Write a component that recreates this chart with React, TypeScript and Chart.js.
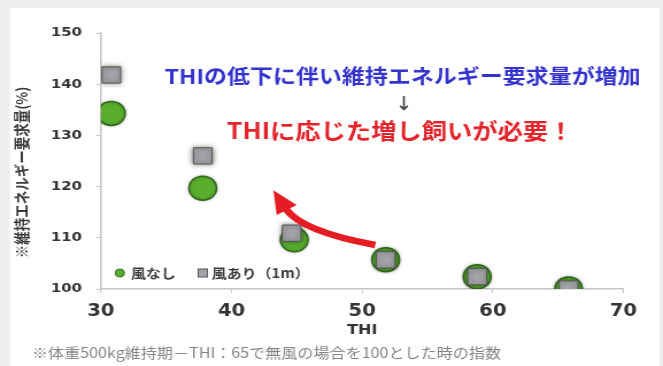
import { useEffect, useRef } from 'react';
import { Chart, registerables } from 'chart.js';

Chart.register(...registerables);

// THI (x) and maintenance-energy requirement index (y) for each condition
const thiNoWind = [30.8, 37.8, 44.8, 51.8, 58.8, 65.8];
const energyNoWind = [134.3, 119.7, 109.6, 105.7, 102.4, 100.0];
const thiWind = [30.8, 37.8, 44.6, 51.8, 58.8, 65.8];
const energyWind = [141.8, 126.0, 110.9, 105.7, 102.4, 100.0];

const seriesLabels = ['風なし', '風あり（1m）'];
const xTicks = [30, 40, 50, 60, 70];
const yTicks = [100, 110, 120, 130, 140, 150];

const xTitle = 'THI';
const yTitle = '※維持エネルギー要求量(%)';
const headline = 'THIの低下に伴い維持エネルギー要求量が増加';
const conclusion = 'THIに応じた増し飼いが必要！';
const footnote = '※体重500kg維持期－THI：65で無風の場合を100とした時の指数';

// Callout anchors in data units (THI, index)
const headlineAt = { x: 53.1, y: 141.6 };
const downArrowAt = { x: 53.2, y: 136.3 };
const conclusionAt = { x: 52.9, y: 130.9 };
const curveTail = { x: 51.0, y: 108.6 };
const curveCtrl = { x: 45.3, y: 111.3 };
const curveTip = { x: 43.2, y: 119.3 };

// Drawing surface: the chart is laid out on a narrower canvas and shown widened.
const CANVAS_W = 577;
const CANVAS_H = 366;
const SHOWN_W = 663;

const JP = "'Noto Sans CJK JP', 'Noto Sans', sans-serif";
const NUM = "'DejaVu Sans', 'Noto Sans', sans-serif";

const GREEN = '#5aae2e';
const GREEN_EDGE = '#2f6a1c';
const GREY = '#a3a3a9';
const GREY_EDGE = '#55555a';
const AXIS = '#c6c6c6';

const panelPlugin = {
  id: 'panel',
  beforeDraw(chart: any) {
    const { ctx, width, height } = chart;
    ctx.save();
    ctx.fillStyle = '#efefef';
    ctx.fillRect(0, 0, width, height);
    ctx.fillStyle = '#ffffff';
    ctx.fillRect(8.7, 8, 565.2, height - 8);
    ctx.restore();
  },
};

const markerShadowPlugin = {
  id: 'markerShadow',
  beforeDatasetDraw(chart: any, args: any) {
    const ctx = chart.ctx;
    ctx.save();
    if (args.index === 1) {
      ctx.shadowColor = 'rgba(20,30,10,0.6)';
      ctx.shadowBlur = 5;
    } else {
      ctx.shadowColor = 'rgba(0,0,0,0.25)';
      ctx.shadowBlur = 3;
    }
  },
  afterDatasetDraw(chart: any) {
    chart.ctx.restore();
  },
};

const calloutPlugin = {
  id: 'callouts',
  afterDraw(chart: any) {
    const { ctx, chartArea } = chart;
    const xs = chart.scales.x;
    const ys = chart.scales.y;
    const px = (p: { x: number; y: number }) => ({
      x: xs.getPixelForValue(p.x),
      y: ys.getPixelForValue(p.y),
    });

    ctx.save();

    // vertical axis title
    ctx.save();
    ctx.translate(19, (chartArea.top + chartArea.bottom) / 2 + 11.5);
    ctx.rotate(-Math.PI / 2);
    ctx.font = `bold 13.5px ${JP}`;
    ctx.fillStyle = '#3a3a3a';
    ctx.textAlign = 'center';
    ctx.textBaseline = 'middle';
    ctx.fillText(yTitle, 0, 0);
    ctx.restore();

    ctx.textAlign = 'center';
    ctx.textBaseline = 'middle';

    // headline, arrow and conclusion
    const h = px(headlineAt);
    ctx.font = `bold 20px ${JP}`;
    ctx.fillStyle = '#3434cc';
    ctx.fillText(headline, h.x, h.y);

    const d = px(downArrowAt);
    ctx.font = `bold 16px ${JP}`;
    ctx.fillStyle = '#444444';
    ctx.fillText('↓', d.x, d.y);

    const c = px(conclusionAt);
    ctx.font = `bold 22px ${JP}`;
    ctx.fillStyle = '#e3242b';
    ctx.fillText(conclusion, c.x, c.y);

    // curved red arrow
    const t0 = px(curveTail);
    const cp = px(curveCtrl);
    const tip = px(curveTip);
    let dx = tip.x - cp.x;
    let dy = tip.y - cp.y;
    const len = Math.hypot(dx, dy);
    dx /= len;
    dy /= len;
    const headLen = 23;
    const headHalf = 10;
    const base = { x: tip.x - dx * headLen, y: tip.y - dy * headLen };
    ctx.strokeStyle = '#e51c23';
    ctx.fillStyle = '#e51c23';
    ctx.lineWidth = 6.5;
    ctx.lineCap = 'butt';
    ctx.beginPath();
    ctx.moveTo(t0.x, t0.y);
    ctx.quadraticCurveTo(cp.x, cp.y, base.x + dx * 2, base.y + dy * 2);
    ctx.stroke();
    ctx.beginPath();
    ctx.moveTo(tip.x, tip.y);
    ctx.lineTo(base.x - dy * headHalf, base.y + dx * headHalf);
    ctx.lineTo(base.x + dy * headHalf, base.y - dx * headHalf);
    ctx.closePath();
    ctx.fill();

    // legend inside the plot, lower left
    const ds = chart.data.datasets;
    const ly = chartArea.bottom - 16;
    const dotX = chartArea.left + 16.5;
    ctx.beginPath();
    ctx.arc(dotX, ly, 4, 0, Math.PI * 2);
    ctx.fillStyle = ds[0].pointBackgroundColor;
    ctx.fill();
    ctx.lineWidth = 1;
    ctx.strokeStyle = ds[0].pointBorderColor;
    ctx.stroke();
    ctx.font = `bold 13px ${JP}`;
    ctx.fillStyle = '#3c3c3c';
    ctx.textAlign = 'left';
    ctx.fillText(ds[0].label, dotX + 9.7, ly);

    const sqX = chartArea.left + 88.7;
    ctx.fillStyle = ds[1].pointBackgroundColor;
    ctx.fillRect(sqX - 4, ly - 4, 8, 8);
    ctx.strokeStyle = ds[1].pointBorderColor;
    ctx.strokeRect(sqX - 4, ly - 4, 8, 8);
    ctx.fillStyle = '#3c3c3c';
    ctx.fillText(ds[1].label, sqX + 7.8, ly);

    // footnote
    ctx.font = `14px ${JP}`;
    ctx.fillStyle = '#858585';
    ctx.fillText(footnote, 27.8, 353);

    ctx.restore();
  },
};

export default function App() {
  const canvasRef = useRef<HTMLCanvasElement | null>(null);

  useEffect(() => {
    const canvas = canvasRef.current;
    if (!canvas) return;

    const chart = new Chart(canvas, {
      type: 'scatter',
      data: {
        datasets: [
          {
            label: seriesLabels[0],
            data: thiNoWind.map((x, i) => ({ x, y: energyNoWind[i] })),
            pointStyle: 'circle',
            pointRadius: 12,
            pointHoverRadius: 12,
            pointBackgroundColor: GREEN,
            pointBorderColor: GREEN_EDGE,
            pointBorderWidth: 1.5,
            order: 1,
          },
          {
            label: seriesLabels[1],
            data: thiWind.map((x, i) => ({ x, y: energyWind[i] })),
            pointStyle: 'rect',
            pointRadius: 11.5,
            pointHoverRadius: 11.5,
            pointBackgroundColor: GREY,
            pointBorderColor: GREY_EDGE,
            pointBorderWidth: 1,
            order: 0,
          },
        ],
      },
      options: {
        responsive: false,
        animation: false,
        events: [],
        layout: { padding: { left: 0, right: 34.4, top: 33, bottom: 0 } },
        plugins: {
          legend: { display: false },
          tooltip: { enabled: false },
        },
        scales: {
          x: {
            type: 'linear',
            min: 30,
            max: 70,
            afterFit: (s: any) => {
              s.height = 77;
            },
            afterBuildTicks: (s: any) => {
              s.ticks = xTicks.map((value) => ({ value }));
            },
            ticks: {
              padding: 8,
              color: '#333333',
              font: { family: NUM, size: 17, weight: 'bold' },
            },
            grid: {
              drawOnChartArea: false,
              drawTicks: true,
              tickLength: 4,
              color: AXIS,
            },
            border: { display: true, color: AXIS, width: 1.5 },
            title: {
              display: true,
              text: xTitle,
              color: '#333333',
              font: { family: NUM, size: 14, weight: 'bold' },
              padding: { top: 0, bottom: 27.6 },
            },
          },
          y: {
            type: 'linear',
            min: 100,
            max: 150,
            afterFit: (s: any) => {
              s.width = 87.8;
            },
            afterBuildTicks: (s: any) => {
              s.ticks = yTicks.map((value) => ({ value }));
            },
            ticks: {
              padding: 12.5,
              color: '#333333',
              font: { family: NUM, size: 13, weight: 'bold' },
            },
            grid: {
              drawOnChartArea: false,
              drawTicks: true,
              tickLength: 4,
              color: AXIS,
            },
            border: { display: true, color: AXIS, width: 1.5 },
          },
        },
      },
      plugins: [panelPlugin, markerShadowPlugin, calloutPlugin],
    } as any);

    return () => chart.destroy();
  }, []);

  return (
    <div style={{ position: 'fixed', left: 0, top: 0, width: SHOWN_W, height: CANVAS_H }}>
      <canvas
        ref={canvasRef}
        width={CANVAS_W}
        height={CANVAS_H}
        style={{ display: 'block', width: `${SHOWN_W}px`, height: `${CANVAS_H}px` }}
      />
    </div>
  );
}
